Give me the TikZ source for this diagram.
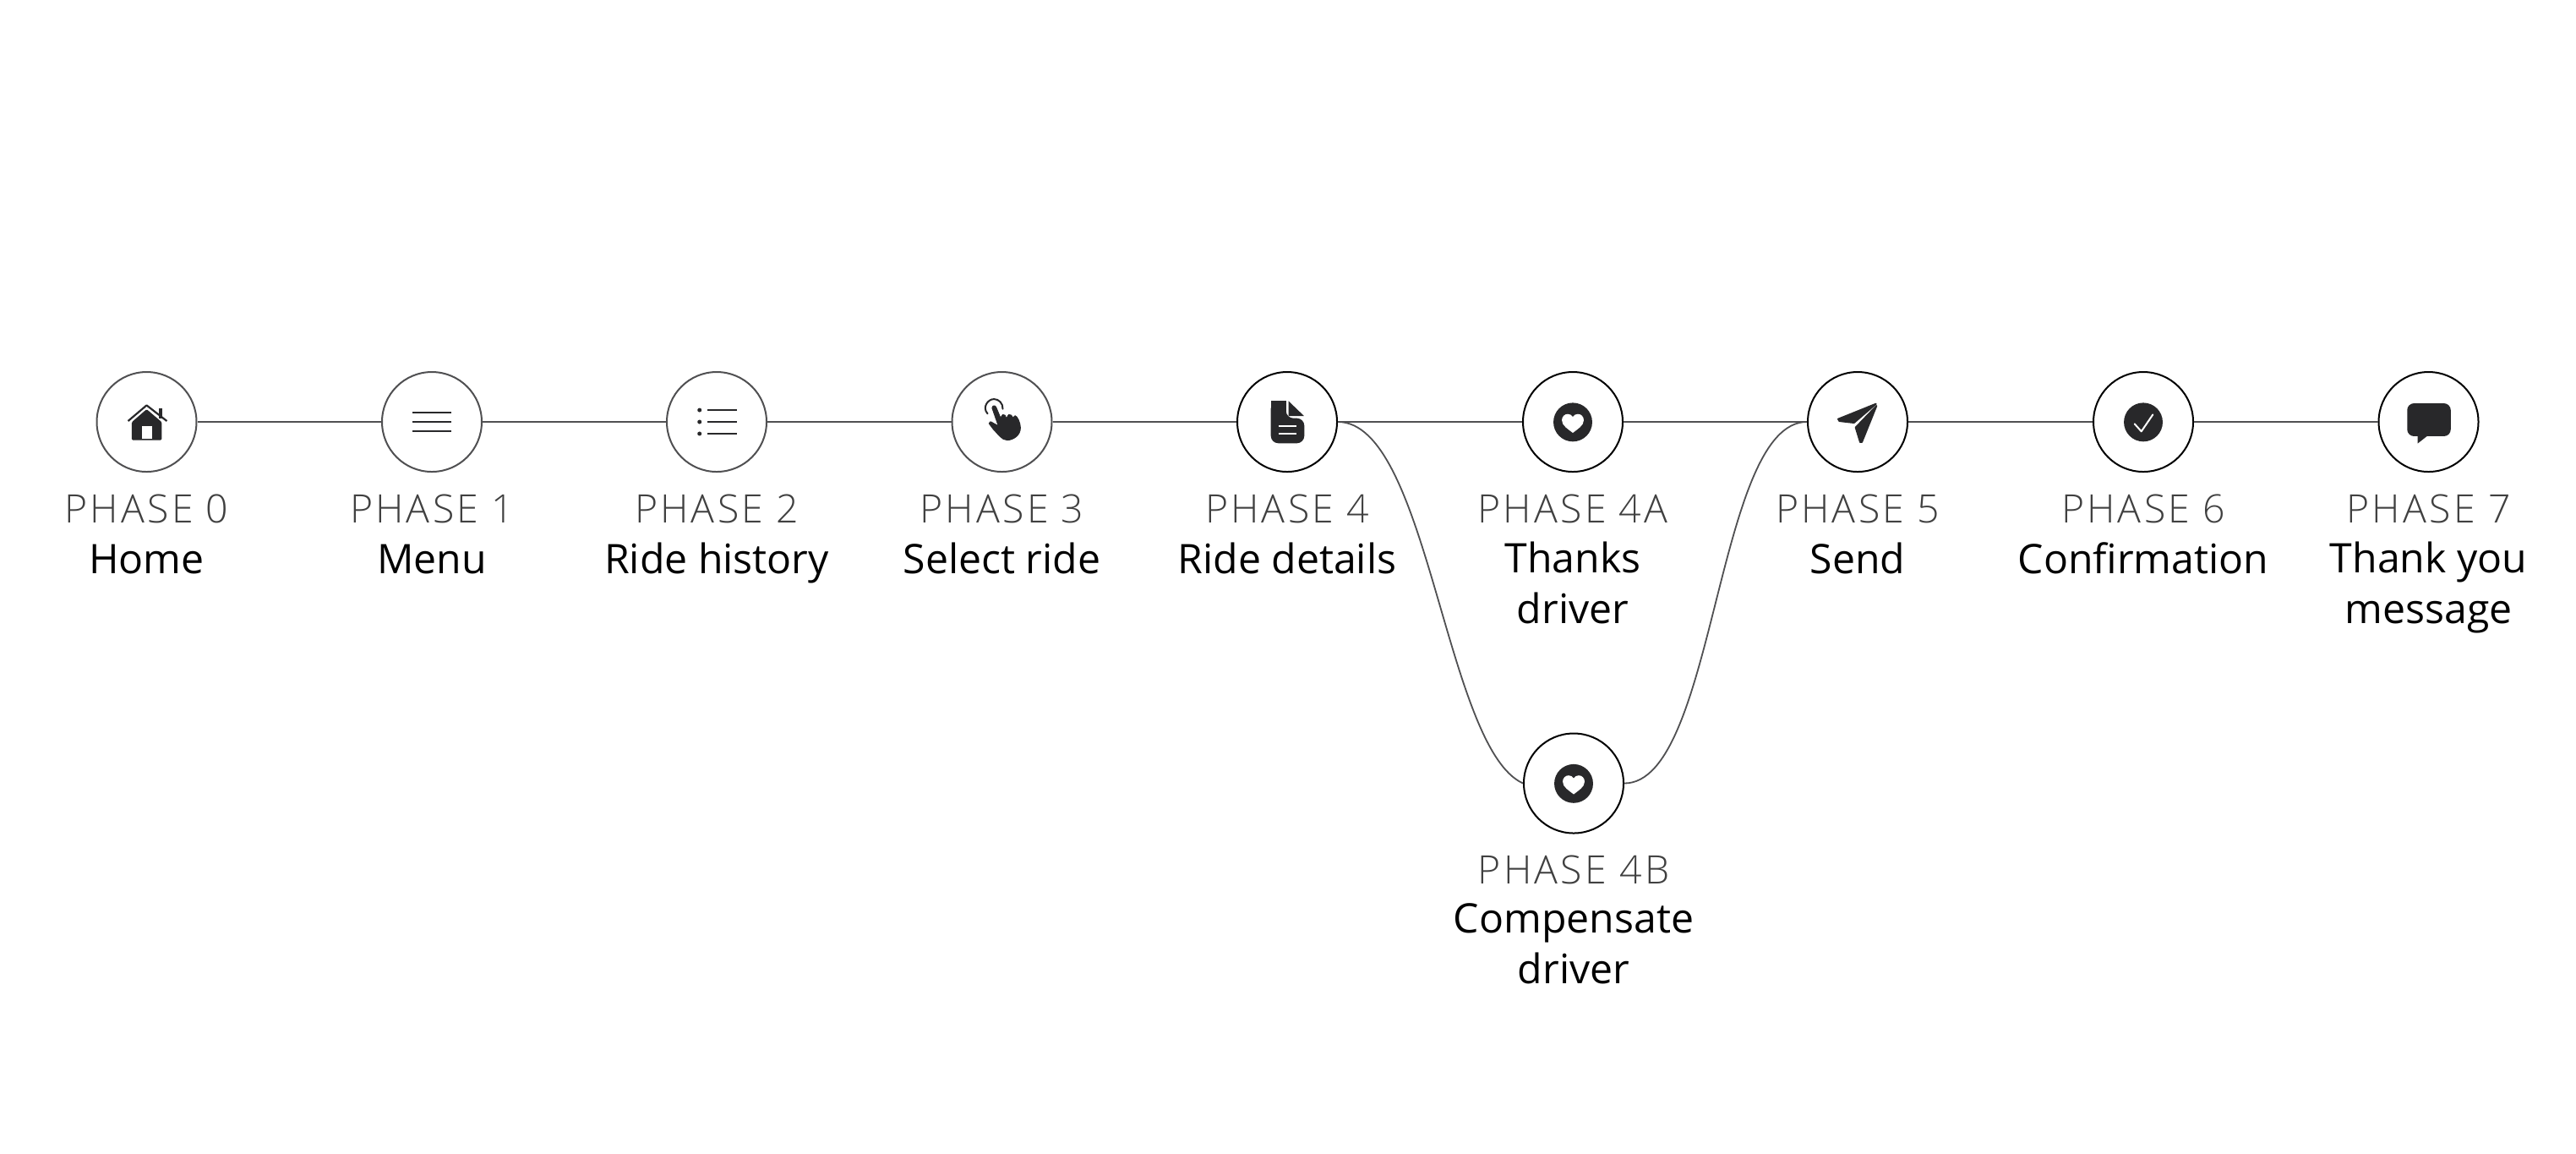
\documentclass[tikz,border=0pt]{standalone}
\usepackage{fontspec}
\setmainfont{Open Sans}
\newfontfamily\lightfont[LetterSpace=7]{Open Sans Light}
\definecolor{ink}{RGB}{40,40,42}
\definecolor{soft}{RGB}{80,80,82}
\usetikzlibrary{positioning}
\tikzset{
  phase/.style={circle, draw=soft, line width=0.02cm, fill=white, minimum size=1.18cm, inner sep=0pt},
  phasedone/.style={phase, draw=black},
  phaselabel/.style={below=0.235cm of #1, font=\lightfont\fontsize{13.2}{16}\selectfont, text=black!75, text height=0.35cm, text depth=0pt, inner sep=0pt},
  phasetitle/.style={below=0.19cm of #1, font=\fontsize{13.7}{17}\selectfont, text=black, align=center, inner sep=0pt, execute at begin node={\rule{0pt}{0.40cm}}},
  phasewrap/.style={phasetitle=#1, yshift=-0.025cm},
  link/.style={draw=soft, line width=0.024cm},
  branch/.style={draw=soft, line width=0.018cm},
  icon/.style={x=0.003333cm, y=-0.003333cm, shift={(-121,-121)}},
}
\newcommand{\iconhome}[1]{\begin{scope}[shift={(#1)}, icon]
  \fill[ink, rounded corners=0.4pt] (68,122) -- (121,76) -- (175,122) -- (175,186) -- (68,186) -- cycle;
  \fill[white] (105,137) rectangle (141,181);
  \fill[ink] (166,72) rectangle (178,108);
  \draw[ink, line width=0.022cm, line join=round] (55,118) -- (121,62) -- (193,118);
\end{scope}}
\newcommand{\iconmenu}[1]{\begin{scope}[shift={(#1)}, icon]
  \draw[ink, line width=0.018cm] (52,87) -- (190,87) (52,121) -- (190,121) (52,155) -- (190,155);
\end{scope}}
\newcommand{\iconlist}[1]{\begin{scope}[shift={(#1)}, icon]
  \draw[ink, line width=0.018cm] (88,79) -- (192,79) (88,121) -- (192,121) (88,163) -- (192,163);
  \fill[ink] (60,79) circle (7.5) (60,121) circle (7.5) (60,163) circle (7.5);
\end{scope}}
\newcommand{\iconhand}[1]{\begin{scope}[shift={(#1)}, icon]
  \fill[ink, draw=ink, line width=0.008cm, line join=round] (86,72) .. controls (86,62) and (98,60) .. (101,70) -- (116,106) -- (124,95) .. controls (130,92) and (135,100) .. (137,108) -- (145,95) .. controls (152,92) and (158,100) .. (160,106) -- (168,99) .. controls (176,100) and (187,125) .. (187,142) .. controls (187,170) and (160,186) .. (140,186) .. controls (120,186) and (108,165) .. (90,147) -- (75,127) .. controls (74,120) and (82,118) .. (88,124) -- (108,135) -- cycle;
  \draw[ink, line width=0.02cm, line cap=round] (70,92) .. controls (50,70) and (70,40) .. (93,40) .. controls (110,40) and (125,55) .. (124,75);
\end{scope}}
\newcommand{\icondoc}[1]{\begin{scope}[shift={(#1)}, icon]
  \fill[ink, rounded corners=2.5pt] (63,47) -- (117,47) -- (117,108) -- (182,108) -- (182,197) -- (63,197) -- cycle;
  \fill[ink] (63,100) rectangle (117,47);
  \fill[ink] (126,47) -- (181,100) -- (126,100) -- cycle;
  \draw[white, line width=0.02cm] (90,135) -- (155,135) (90,163) -- (155,163);
\end{scope}}
\newcommand{\iconheart}[1]{\begin{scope}[shift={(#1)}, icon]
  \fill[ink] (121,122) circle (69);
  \fill[white] (121,160) .. controls (105,147) and (82,135) .. (82,115) .. controls (82,102) and (92,93) .. (103,93) .. controls (110,93) and (118,97) .. (121,103) .. controls (124,97) and (132,93) .. (139,93) .. controls (150,93) and (160,102) .. (160,115) .. controls (160,135) and (137,147) .. (121,160) -- cycle;
\end{scope}}
\newcommand{\iconsend}[1]{\begin{scope}[shift={(#1)}, icon]
  \fill[ink, draw=ink, line width=0.02cm, line join=round] (52,111) -- (186,57) -- (108,124) -- (56,118) -- cycle;
  \fill[ink, draw=ink, line width=0.02cm, line join=round] (188,64) -- (136,193) -- (130,193) -- (114,141) -- cycle;
\end{scope}}
\newcommand{\iconcheck}[1]{\begin{scope}[shift={(#1)}, icon]
  \fill[ink] (121,122) circle (69);
  \draw[white, line width=0.02cm, line cap=round, line join=round] (90,128) -- (114,155) -- (155,95);
\end{scope}}
\newcommand{\iconbubble}[1]{\begin{scope}[shift={(#1)}, icon]
  \fill[ink, rounded corners=2.3pt] (45,55) rectangle (200,172);
  \fill[ink] (82,165) -- (82,198) -- (118,170) -- cycle;
\end{scope}}

\begin{document}
\begin{tikzpicture}
  \useasboundingbox (0,0) rectangle (30.48,-13.64);
  % circles
  \node[phase] (p0) at (1.735,-4.99) {};
  \node[phase] (p1) at (5.11,-4.99) {};
  \node[phase] (p2) at (8.48,-4.99) {};
  \node[phase] (p3) at (11.855,-4.99) {};
  \node[phasedone] (p4) at (15.23,-4.99) {};
  \node[phasedone] (p4a) at (18.61,-4.99) {};
  \node[phasedone] (p4b) at (18.62,-9.265) {};
  \node[phasedone] (p5) at (21.98,-4.99) {};
  \node[phasedone] (p6) at (25.36,-4.99) {};
  \node[phasedone] (p7) at (28.735,-4.99) {};
  % connectors
  \draw[link] (p0) -- (p1);
  \draw[link] (p1) -- (p2);
  \draw[link] (p2) -- (p3);
  \draw[link] (p3) -- (p4);
  \draw[link] (p4) -- (p4a);
  \draw[link] (p4a) -- (p5);
  \draw[link] (p5) -- (p6);
  \draw[link] (p6) -- (p7);
  \draw[branch] (p4.east) .. controls (16.90,-4.99) and (17.10,-8.85) .. (p4b.west);
  \draw[branch] (p4b.east) .. controls (20.30,-9.265) and (20.30,-4.99) .. (p5.west);
  % icons
  \iconhome{p0}
  \iconmenu{p1}
  \iconlist{p2}
  \iconhand{p3}
  \icondoc{p4}
  \iconheart{p4a}
  \iconheart{p4b}
  \iconsend{p5}
  \iconcheck{p6}
  \iconbubble{p7}
  % labels
  \node[phaselabel=p0] (l0) {PHASE 0};
  \node[phasetitle=l0] (t0) {Home};
  \node[phaselabel=p1] (l1) {PHASE 1};
  \node[phasetitle=l1] (t1) {Menu};
  \node[phaselabel=p2] (l2) {PHASE 2};
  \node[phasetitle=l2] (t2) {Ride history};
  \node[phaselabel=p3] (l3) {PHASE 3};
  \node[phasetitle=l3] (t3) {Select ride};
  \node[phaselabel=p4] (l4) {PHASE 4};
  \node[phasetitle=l4] (t4) {Ride details};
  \node[phaselabel=p4a] (l4a) {PHASE 4A};
  \node[phasewrap=l4a] (t4a) {Thanks\\driver};
  \node[phaselabel=p4b] (l4b) {PHASE 4B};
  \node[phasewrap=l4b] (t4b) {Compensate\\driver};
  \node[phaselabel=p5] (l5) {PHASE 5};
  \node[phasetitle=l5] (t5) {Send};
  \node[phaselabel=p6] (l6) {PHASE 6};
  \node[phasetitle=l6] (t6) {Confirmation};
  \node[phaselabel=p7] (l7) {PHASE 7};
  \node[phasewrap=l7] (t7) {Thank you\\message};
\end{tikzpicture}
\end{document}
